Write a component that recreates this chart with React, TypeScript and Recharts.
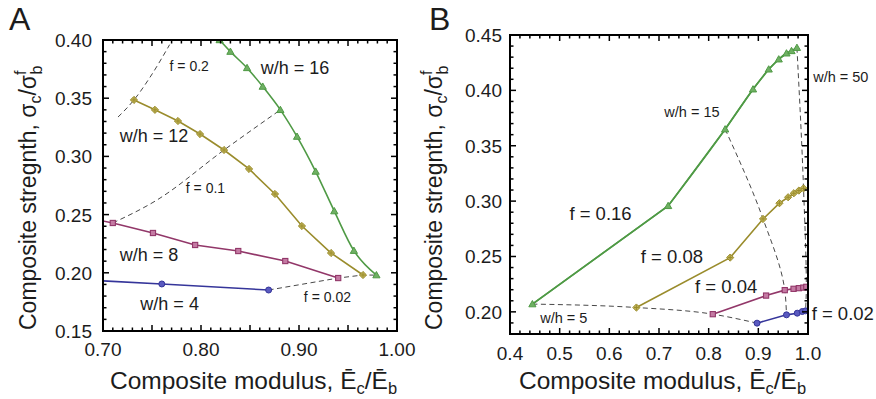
import React from 'react';
import { LineChart, Line, XAxis, YAxis, ReferenceDot } from 'recharts';

// ---------------- Panel A data (x = composite modulus, y = composite strength) ----------------
const A_WH4 = [{ x: 0.69, y: 0.1935 }, { x: 0.76, y: 0.1904 }, { x: 0.869, y: 0.1852 }];
const A_WH8 = [
  { x: 0.69, y: 0.2462 }, { x: 0.71, y: 0.2428 }, { x: 0.751, y: 0.2342 }, { x: 0.794, y: 0.2239 },
  { x: 0.838, y: 0.2187 }, { x: 0.886, y: 0.2101 }, { x: 0.94, y: 0.1955 },
];
const A_WH12 = [
  { x: 0.7316, y: 0.3485 }, { x: 0.753, y: 0.34 }, { x: 0.7765, y: 0.3304 }, { x: 0.799, y: 0.3192 },
  { x: 0.8235, y: 0.3055 }, { x: 0.849, y: 0.2892 }, { x: 0.8755, y: 0.2677 }, { x: 0.903, y: 0.2402 },
  { x: 0.9327, y: 0.217 }, { x: 0.9653, y: 0.1981 },
];
const A_WH16 = [
  { x: 0.819, y: 0.4 }, { x: 0.83, y: 0.39 }, { x: 0.847, y: 0.376 }, { x: 0.863, y: 0.36 },
  { x: 0.881, y: 0.34 }, { x: 0.898, y: 0.317 }, { x: 0.917, y: 0.287 }, { x: 0.936, y: 0.253 },
  { x: 0.956, y: 0.219 }, { x: 0.979, y: 0.198 },
];
const A_F020 = [{ x: 0.7153, y: 0.3338 }, { x: 0.7316, y: 0.3485 }, { x: 0.748, y: 0.368 }, { x: 0.768, y: 0.396 }];
const A_F010 = [{ x: 0.71, y: 0.2428 }, { x: 0.755, y: 0.2625 }, { x: 0.8235, y: 0.3055 }, { x: 0.881, y: 0.34 }];
const A_F002 = [{ x: 0.869, y: 0.1852 }, { x: 0.94, y: 0.1955 }, { x: 0.9653, y: 0.1981 }, { x: 0.979, y: 0.198 }];

// ---------------- Panel B data ----------------
const B_F016 = [
  { x: 0.4451, y: 0.207 }, { x: 0.7184, y: 0.2957 }, { x: 0.8332, y: 0.3649 }, { x: 0.8893, y: 0.401 },
  { x: 0.9209, y: 0.419 }, { x: 0.9411, y: 0.4281 }, { x: 0.9567, y: 0.4335 }, { x: 0.9668, y: 0.4356 },
  { x: 0.9777, y: 0.4385 },
];
const B_F008 = [
  { x: 0.6545, y: 0.2039 }, { x: 0.8433, y: 0.249 }, { x: 0.9095, y: 0.2839 }, { x: 0.9425, y: 0.2981 },
  { x: 0.96, y: 0.3035 }, { x: 0.9715, y: 0.3071 }, { x: 0.9816, y: 0.3095 }, { x: 0.991, y: 0.3115 },
];
const B_F004 = [
  { x: 0.8083, y: 0.1979 }, { x: 0.9156, y: 0.2147 }, { x: 0.9532, y: 0.2196 }, { x: 0.9709, y: 0.2208 },
  { x: 0.9816, y: 0.2214 }, { x: 0.9905, y: 0.2219 }, { x: 0.9966, y: 0.2226 },
];
const B_F002 = [
  { x: 0.8974, y: 0.1898 }, { x: 0.9567, y: 0.1973 }, { x: 0.9783, y: 0.1988 }, { x: 0.9885, y: 0.2003 },
  { x: 0.9951, y: 0.2009 },
];
const B_WH5 = [{ x: 0.4451, y: 0.207 }, { x: 0.6545, y: 0.2039 }, { x: 0.8083, y: 0.1979 }, { x: 0.8974, y: 0.1898 }];
const B_WH15 = [{ x: 0.8332, y: 0.3649 }, { x: 0.9095, y: 0.2839 }, { x: 0.9532, y: 0.2196 }, { x: 0.9567, y: 0.1973 }];
const B_WH50 = [{ x: 0.9777, y: 0.4385 }, { x: 0.991, y: 0.3115 }, { x: 0.9966, y: 0.2226 }, { x: 0.9951, y: 0.2009 }];

// ---------------- Axes / tick labels ----------------
const A_X_DOMAIN = [0.7, 1.0];
const A_Y_DOMAIN = [0.15, 0.4];
const A_X_LABELS = [0.7, 0.8, 0.9, 1.0];
const A_Y_LABELS = [0.15, 0.2, 0.25, 0.3, 0.35, 0.4];
const B_X_DOMAIN = [0.4, 1.0];
const B_Y_DOMAIN = [0.18, 0.45];
const B_X_LABELS = [0.4, 0.5, 0.6, 0.7, 0.8, 0.9, 1.0];
const B_Y_LABELS = [0.2, 0.25, 0.3, 0.35, 0.4, 0.45];

// ---------------- Annotations (data coordinates) ----------------
const A_NOTES = [
  { text: 'w/h = 16', x: 0.896, y: 0.376, big: true },
  { text: 'f = 0.2', x: 0.788, y: 0.3777, big: false },
  { text: 'w/h = 12', x: 0.752, y: 0.3179, big: true },
  { text: 'f = 0.1', x: 0.8046, y: 0.2732, big: false },
  { text: 'w/h = 8', x: 0.747, y: 0.2157, big: true },
  { text: 'w/h = 4', x: 0.768, y: 0.1736, big: true },
  { text: 'f = 0.02', x: 0.929, y: 0.1795, big: false },
];
const B_NOTES = [
  { text: 'w/h = 15', x: 0.7664, y: 0.3805, big: false },
  { text: 'w/h = 50', x: 1.066, y: 0.4121, big: false },
  { text: 'f = 0.16', x: 0.5822, y: 0.2889, big: true },
  { text: 'f = 0.08', x: 0.7259, y: 0.2496, big: true },
  { text: 'f = 0.04', x: 0.8352, y: 0.223, big: true },
  { text: 'f = 0.02', x: 1.07, y: 0.1982, big: true },
  { text: 'w/h = 5', x: 0.5083, y: 0.1946, big: false },
];

const FONT = '"Liberation Sans", Arial, Helvetica, sans-serif';
const INK = '#1c1c1c';
const FRAME = '#000000';
const GREEN = '#4f9a45';
const GREEN_L = '#6fb063';
const OLIVE = '#9a8c2c';
const OLIVE_L = '#c2b55a';
const PURPLE = '#923769';
const PURPLE_L = '#c47aa3';
const BLUE = '#35359a';
const BLUE_L = '#5a5ac0';

// layout of each panel (pixels)
const H = 399;
const A_BOX = { left: 0, w: 440, top: 40, right: 43, xAxisH: 68, yAxisW: 103 };
const B_BOX = { left: 440, w: 436, top: 35, right: 68, xAxisH: 65, yAxisW: 70 };

const steps = (a: number, b: number, s: number) => {
  const n = Math.round((b - a) / s);
  return Array.from({ length: n + 1 }, (_, i) => +(a + i * s).toFixed(4));
};
const isMult = (v: number, s: number) => Math.abs(v / s - Math.round(v / s)) < 1e-4;

function labelTick(side: 'bottom' | 'left', digits: number, gap: number) {
  return (props: any) => {
    const x = Number(props.x);
    const y = Number(props.y);
    const v = Number(props.payload?.value);
    if (side === 'bottom') {
      return <text x={x} y={y + gap} textAnchor="middle" fontSize={19} fontFamily={FONT} fill={INK}>{v.toFixed(digits)}</text>;
    }
    return <text x={x - gap} y={y + 7} textAnchor="end" fontSize={19} fontFamily={FONT} fill={INK}>{v.toFixed(digits)}</text>;
  };
}

function Marker({ kind, cx, cy }: { kind: string; cx: number; cy: number }) {
  if (cx == null || cy == null || isNaN(cx) || isNaN(cy)) return null;
  if (kind === 'tri') {
    const s = 3.6;
    return <path d={`M${cx},${cy - s} L${cx + s},${cy + s * 0.75} L${cx - s},${cy + s * 0.75} Z`} fill={GREEN_L} stroke={GREEN} strokeWidth={1} />;
  }
  if (kind === 'dia') {
    const s = 3.6;
    return (
      <g>
        <path d={`M${cx},${cy - s} L${cx + s},${cy} L${cx},${cy + s} L${cx - s},${cy} Z`} fill={OLIVE_L} stroke={OLIVE} strokeWidth={1} />
        <path d={`M${cx - 2.4},${cy} H${cx + 2.4} M${cx},${cy - 2.4} V${cy + 2.4}`} stroke={OLIVE} strokeWidth={1} />
      </g>
    );
  }
  if (kind === 'sq') {
    return <rect x={cx - 2.6} y={cy - 2.6} width={5.2} height={5.2} fill={PURPLE_L} stroke={PURPLE} strokeWidth={1.1} />;
  }
  return <circle cx={cx} cy={cy} r={3} fill={BLUE_L} stroke={BLUE} strokeWidth={1} />;
}

const dotFor = (kind: string) => (p: any) => <Marker key={`m-${kind}-${p.index}`} kind={kind} cx={p.cx} cy={p.cy} />;

function series(data: { x: number; y: number }[], color: string, kind: string, curve: any, key: string, withDots = true) {
  return (
    <Line key={key} data={data} dataKey="y" type={curve} stroke={color} strokeWidth={1.6}
      dot={withDots ? dotFor(kind) : false} activeDot={false} legendType="none" isAnimationActive={false} />
  );
}
function dashed(data: { x: number; y: number }[], curve: any, key: string) {
  return (
    <Line key={key} data={data} dataKey="y" type={curve} stroke="#333" strokeWidth={0.9} strokeDasharray="5 3.5"
      dot={false} activeDot={false} legendType="none" isAnimationActive={false} />
  );
}
function notes(list: { text: string; x: number; y: number; big: boolean }[], bigSize: number, smallSize: number) {
  return list.map((n) => (
    <ReferenceDot key={n.text + n.x} x={n.x} y={n.y} r={0} fill="none" stroke="none" ifOverflow="visible"
      label={{ value: n.text, position: 'center', fontSize: n.big ? bigSize : smallSize, fill: INK, fontFamily: FONT }} />
  ));
}

function PanelA() {
  const b = A_BOX;
  return (
    <LineChart width={b.w} height={H} margin={{ top: b.top, right: b.right, bottom: 0, left: 0 }}>
      <XAxis dataKey="x" type="number" domain={A_X_DOMAIN} allowDataOverflow ticks={A_X_LABELS} interval={0}
        height={b.xAxisH} tickSize={0} tickMargin={0} tickLine={false} axisLine={false} tick={labelTick('bottom', 2, 25)} />
      <YAxis type="number" domain={A_Y_DOMAIN} allowDataOverflow ticks={A_Y_LABELS} interval={0}
        width={b.yAxisW} tickSize={0} tickMargin={0} tickLine={false} axisLine={false} tick={labelTick('left', 2, 11)} />
      {dashed(A_F020, 'monotone', 'af02')}
      {dashed(A_F010, 'monotone', 'af01')}
      {dashed(A_F002, 'linear', 'af002')}
      {series(A_WH4, BLUE, 'cir', 'linear', 'a4')}
      {series(A_WH8, PURPLE, 'sq', 'linear', 'a8')}
      {series(A_WH12, OLIVE, 'dia', 'linear', 'a12')}
      {series(A_WH16, GREEN, 'tri', 'monotone', 'a16')}
      {notes(A_NOTES, 18, 14)}
    </LineChart>
  );
}

function PanelB() {
  const b = B_BOX;
  return (
    <LineChart width={b.w} height={H} margin={{ top: b.top, right: b.right, bottom: 0, left: 0 }}>
      <XAxis dataKey="x" type="number" domain={B_X_DOMAIN} allowDataOverflow ticks={B_X_LABELS} interval={0}
        height={b.xAxisH} tickSize={0} tickMargin={0} tickLine={false} axisLine={false} tick={labelTick('bottom', 1, 26)} />
      <YAxis type="number" domain={B_Y_DOMAIN} allowDataOverflow ticks={B_Y_LABELS} interval={0}
        width={b.yAxisW} tickSize={0} tickMargin={0} tickLine={false} axisLine={false} tick={labelTick('left', 2, 8)} />
      {dashed(B_WH5, 'monotone', 'bw5')}
      {dashed(B_WH15, 'monotoneY', 'bw15')}
      {dashed(B_WH50, 'monotoneY', 'bw50')}
      {series(B_F002, BLUE, 'cir', 'linear', 'b2')}
      {series(B_F004, PURPLE, 'sq', 'linear', 'b4')}
      {series(B_F008, OLIVE, 'dia', 'linear', 'b8')}
      {series(B_F016.slice(0, 2), GREEN, 'tri', 'linear', 'b16a', false)}
      {series(B_F016.slice(1), GREEN, 'tri', 'monotone', 'b16b', false)}
      {series(B_F016, GREEN, 'tri', 'linear', 'b16m', true)}
      {notes(B_NOTES, 18.5, 14.5)}
    </LineChart>
  );
}

// Plot frame with inward ticks on all four sides, mapped linearly from each panel's domain
// onto the same plot box that the chart above uses.
function frameTicks(box: any, xd: number[], yd: number[], xMinor: number, yMinor: number, xMajor: number, yMajor: number, id: string) {
  const ox = box.left + box.yAxisW;
  const oy = box.top;
  const w = box.w - box.yAxisW - box.right;
  const h = H - box.top - box.xAxisH;
  const sx = (v: number) => ox + ((v - xd[0]) / (xd[1] - xd[0])) * w;
  const sy = (v: number) => oy + ((yd[1] - v) / (yd[1] - yd[0])) * h;
  const t = 1.5;
  const fw = 2;
  const out: any[] = [];
  steps(xd[0], xd[1], xMinor).forEach((v, i) => {
    const len = isMult(v, xMajor) ? 6 : 3.5;
    const X = sx(v);
    out.push(<path key={`${id}xb${i}`} d={`M${X},${oy + h} V${oy + h - len}`} stroke={FRAME} strokeWidth={t} fill="none" />);
    out.push(<path key={`${id}xt${i}`} d={`M${X},${oy} V${oy + len}`} stroke={FRAME} strokeWidth={t} fill="none" />);
  });
  steps(yd[0], yd[1], yMinor).forEach((v, i) => {
    const len = isMult(v, yMajor) ? 6 : 3.5;
    const Y = sy(v);
    out.push(<path key={`${id}yl${i}`} d={`M${ox},${Y} H${ox + len}`} stroke={FRAME} strokeWidth={t} fill="none" />);
    out.push(<path key={`${id}yr${i}`} d={`M${ox + w},${Y} H${ox + w - len}`} stroke={FRAME} strokeWidth={t} fill="none" />);
  });
  out.push(
    <path key={`${id}frame`} d={`M${ox},${oy} H${ox + w} V${oy + h} H${ox} Z`} stroke={FRAME} strokeWidth={fw} fill="none" />
  );
  return out;
}

function Overlay() {
  const yTitle = (cx: number, cy: number) => (
    <text transform={`translate(${cx},${cy}) rotate(-90)`} textAnchor="start" fontSize={23} fontFamily={FONT} fill={INK}>
      Composite stregnth, σ
      <tspan fontSize={16} dy={5}>c</tspan>
      <tspan dy={-5}>/σ</tspan>
      <tspan fontSize={16} dy={-10}>f</tspan>
      <tspan fontSize={16} dx={-4} dy={16}>b</tspan>
    </text>
  );
  const xTitle = (cx: number, cy: number) => (
    <text x={cx} y={cy} textAnchor="start" fontSize={24.5} fontFamily={FONT} fill={INK}>
      Composite modulus, Ē
      <tspan fontSize={16.5} dy={5}>c</tspan>
      <tspan dy={-5}>/Ē</tspan>
      <tspan fontSize={16.5} dy={5}>b</tspan>
    </text>
  );
  return (
    <svg width={876} height={399} style={{ position: 'absolute', left: 0, top: 0, pointerEvents: 'none', zIndex: 5 }}>
      {frameTicks(A_BOX, A_X_DOMAIN, A_Y_DOMAIN, 0.01, 0.01, 0.05, 0.05, 'a')}
      {frameTicks(B_BOX, B_X_DOMAIN, B_Y_DOMAIN, 0.02, 0.01, 0.1, 0.05, 'b')}
      <text x={9} y={30} fontSize={32} fontFamily={FONT} fill={INK}>A</text>
      <text x={429} y={30} fontSize={32} fontFamily={FONT} fill={INK}>B</text>
      {yTitle(36, 330)}
      {yTitle(442, 330)}
      {xTitle(110, 389)}
      {xTitle(519, 389)}
    </svg>
  );
}

export default function App() {
  return (
    <div style={{ position: 'absolute', left: 0, top: 0, width: 876, height: 399, background: '#fff' }}>
      <div style={{ position: 'absolute', left: A_BOX.left, top: 0 }}>
        <PanelA />
      </div>
      <div style={{ position: 'absolute', left: B_BOX.left, top: 0 }}>
        <PanelB />
      </div>
      <Overlay />
    </div>
  );
}
